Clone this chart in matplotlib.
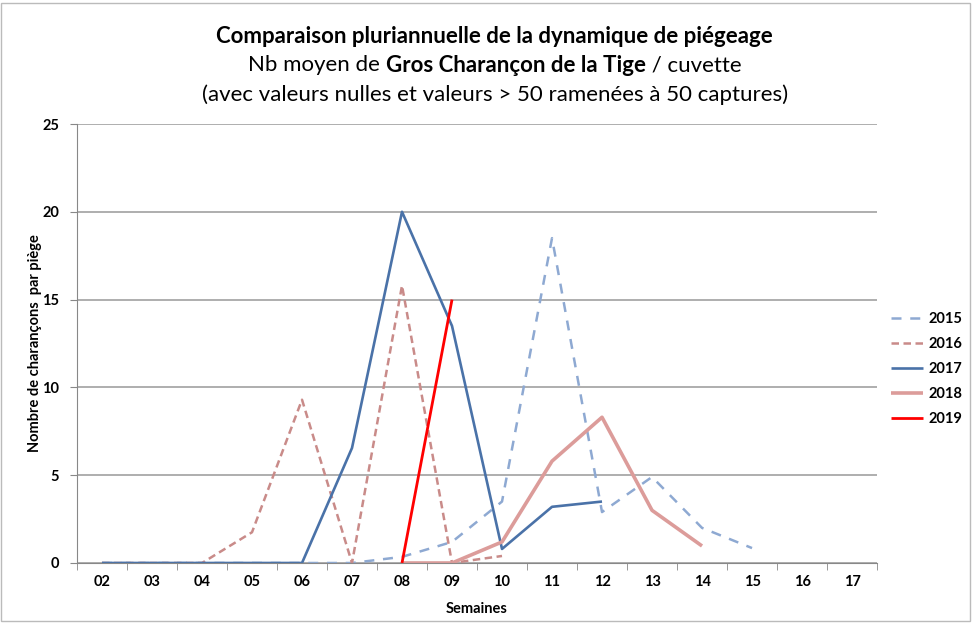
import matplotlib.pyplot as plt
import numpy as np
from matplotlib.patches import Rectangle

plt.rcParams['font.family'] = ['Lato', 'DejaVu Sans']

weeks = ["02", "03", "04", "05", "06", "07", "08", "09",
         "10", "11", "12", "13", "14", "15", "16", "17"]

# values per week, starting at week 02 (None = no data)
y2015 = [0, 0, 0, 0, 0, 0, 0.35, 1.2, 3.5, 18.5, 2.9, 4.9, 2.0, 0.85]
y2016 = [0, 0, 0, 1.75, 9.3, 0, 15.8, 0, 0.4]
y2017 = [0, 0, 0, 0, 0, 6.55, 20, 13.5, 0.8, 3.2, 3.5]
y2018 = [None] * 6 + [0, 0, 1.2, 5.8, 8.3, 3.0, 0.97]
y2019 = [None] * 6 + [0, 15]

series = [
    ("2015", y2015, "#8ea9d2", (0, (4, 3.5)), 1.8),
    ("2016", y2016, "#c98b89", (0, (3, 1.8)), 1.8),
    ("2017", y2017, "#4a72a8", "-", 1.9),
    ("2018", y2018, "#dc9c9a", "-", 2.6),
    ("2019", y2019, "#ff0000", "-", 2.0),
]

fig = plt.figure(figsize=(9.72, 6.25), dpi=100)
ax = fig.add_axes([0.0792, 0.0992, 0.8231, 0.7024])

for name, vals, col, ls, lw in series:
    v = np.array([np.nan if a is None else a for a in vals], dtype=float)
    ax.plot(np.arange(len(v)), v, color=col, linestyle=ls, linewidth=lw,
            label=name, solid_capstyle="butt")

ax.set_xlim(-0.5, len(weeks) - 0.5)
ax.set_ylim(0, 25)
ax.set_yticks([0, 5, 10, 15, 20, 25])
ax.set_xticks(np.arange(len(weeks)))
ax.set_xticklabels(weeks, fontsize=10.5, fontweight="bold")
ax.set_xticks(np.arange(len(weeks) + 1) - 0.5, minor=True)
ax.tick_params(axis="x", which="major", length=0, pad=9)
ax.tick_params(axis="x", which="minor", length=5, color="#888888")
ax.tick_params(axis="y", length=5, color="#888888", labelsize=10.5, pad=8)
for lab in ax.get_yticklabels():
    lab.set_fontweight("bold")

ax.grid(axis="y", color="#999999", linewidth=1.1)
ax.set_axisbelow(True)
for s in ["top", "right"]:
    ax.spines[s].set_visible(False)
ax.spines["left"].set_color("#888888")
ax.spines["bottom"].set_color("#888888")

ax.set_xlabel("Semaines", fontsize=10.5, fontweight="bold", labelpad=9)
ax.set_ylabel("Nombre de charançons  par piège", fontsize=10.5,
              fontweight="bold", labelpad=0)

ax.legend(loc="upper left", bbox_to_anchor=(1.008, 0.588), frameon=False,
          borderaxespad=0.3, borderpad=0.2,
          prop={"weight": "bold", "size": 10.5},
          handlelength=2.2, labelspacing=0.75, handletextpad=0.4)

# title block
cx = 0.509
fs = 16
fig.text(cx, 0.942, "Comparaison pluriannuelle de la dynamique de piégeage",
         ha="center", va="center", fontsize=fs, fontweight="bold")
t1 = fig.text(0, 0.896, "Nb moyen de ", ha="left", va="center", fontsize=fs)
t2 = fig.text(0, 0.896, "Gros Charançon de la Tige", ha="left", va="center",
              fontsize=fs, fontweight="bold")
t3 = fig.text(0, 0.896, " / cuvette", ha="left", va="center", fontsize=fs)
r = fig.canvas.get_renderer()
ws = [t.get_window_extent(r).width / fig.bbox.width for t in (t1, t2, t3)]
x0 = cx - sum(ws) / 2
for t, w in zip((t1, t2, t3), ws):
    t.set_x(x0)
    x0 += w
fig.text(cx, 0.849, "(avec valeurs nulles et valeurs > 50 ramenées à 50 captures)",
         ha="center", va="center", fontsize=fs)

fig.patches.append(Rectangle((0.001, 0.006), 0.997, 0.99, transform=fig.transFigure,
                             fill=False, edgecolor="#bbbbbb", linewidth=1))

fig.savefig("out.png", dpi=100)
